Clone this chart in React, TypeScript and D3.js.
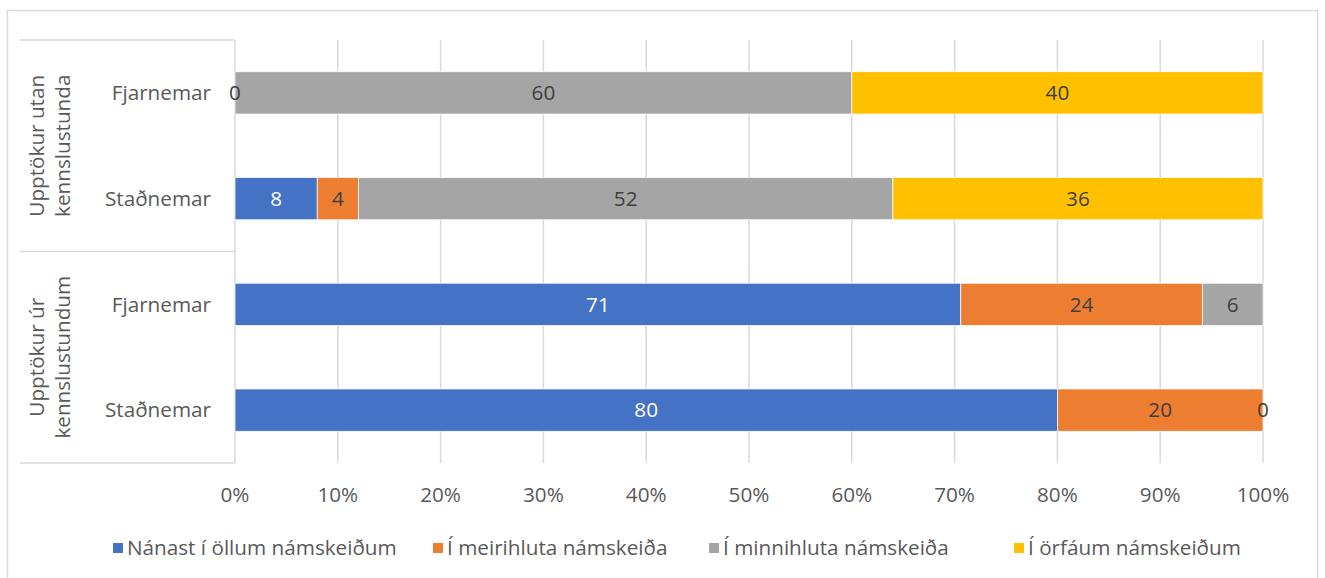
import React from "react";
import * as d3 from "d3";

const categories = ["Fjarnemar|utan", "Staðnemar|utan", "Fjarnemar|ur", "Staðnemar|ur"];
const categoryLabels = ["Fjarnemar", "Staðnemar", "Fjarnemar", "Staðnemar"];
const groups = [
  { lines: ["Upptökur utan", "kennslustunda"], members: ["Fjarnemar|utan", "Staðnemar|utan"] },
  { lines: ["Upptökur úr", "kennslustundum"], members: ["Fjarnemar|ur", "Staðnemar|ur"] },
];
const seriesNames = [
  "Nánast í öllum námskeiðum",
  "Í meirihluta námskeiða",
  "Í minnihluta námskeiða",
  "Í örfáum námskeiðum",
];
const colors = ["#4472C4", "#ED7D31", "#A5A5A5", "#FFC000"];
const labelColors = ["#FFFFFF", "#404040", "#404040", "#404040"];
// values per series, in category order (null = no value / no label)
const nanast = [0, 8, 70.6, 80];
const meirihluta = [null, 4, 23.5, 20];
const minnihluta = [60, 52, 5.9, 0];
const orfaum = [40, 36, null, null];
const seriesValues = [nanast, meirihluta, minnihluta, orfaum];
const ticks = [0, 0.1, 0.2, 0.3, 0.4, 0.5, 0.6, 0.7, 0.8, 0.9, 1];

const W = 1325;
const H = 578;
const FONT = "'Open Sans', sans-serif";
const FS = 20.7;

export default function App() {
  const x = d3.scaleLinear().domain([0, 1]).range([235, 1263]);
  const y = d3
    .scaleBand<string>()
    .domain(categories)
    .range([40, 463])
    .paddingInner(0.6)
    .paddingOuter(0.3);

  const rows = categories.map((c, i) => {
    const vals = seriesValues.map((s) => s[i]);
    const total = d3.sum(vals.map((v) => v ?? 0));
    let acc = 0;
    return vals.map((v, k) => {
      const start = acc / total;
      acc += v ?? 0;
      const end = acc / total;
      return { cat: c, k, v, start, end };
    });
  });

  const step = y.step();
  const gridColor = "#D9D9D9";

  const legendX = [113, 433, 709, 1014];

  return (
    <svg
      width={W}
      height={H}
      style={{ position: "absolute", left: 0, top: 0, background: "#fff" }}
      fontFamily={FONT}
    >
      <rect x={7.5} y={10.5} width={1310} height={H} fill="#fff" stroke={gridColor} strokeWidth={1.5} />
      {/* gridlines */}
      {ticks.map((t) => (
        <line key={t} x1={x(t)} x2={x(t)} y1={40} y2={463} stroke={gridColor} strokeWidth={1.5} />
      ))}
      {/* category group box lines */}
      {[40, (y(groups[1].members[0]) ?? 0) - (step - y.bandwidth()) / 2, 463].map((yy, i) => (
        <line key={i} x1={20} x2={235} y1={yy} y2={yy} stroke={gridColor} strokeWidth={1.5} />
      ))}
      {/* bars */}
      {rows.map((segs) =>
        segs.map((s) =>
          s.v === null || s.v === 0 ? null : (
            <rect
              key={s.cat + s.k}
              x={x(s.start)}
              y={y(s.cat)}
              width={x(s.end) - x(s.start)}
              height={y.bandwidth()}
              fill={colors[s.k]}
              stroke="#fff"
              strokeWidth={0.75}
            />
          )
        )
      )}
      {/* data labels */}
      {rows.map((segs) =>
        segs.map((s) =>
          s.v === null ? null : (
            <text
              key={"l" + s.cat + s.k}
              x={x((s.start + s.end) / 2)}
              y={(y(s.cat) ?? 0) + y.bandwidth() / 2}
              dy="0.35em"
              textAnchor="middle"
              fontSize={FS}
              fill={s.v === 0 ? "#404040" : labelColors[s.k]}
            >
              {Math.round(s.v)}
            </text>
          )
        )
      )}
      {/* category labels */}
      {categories.map((c, i) => (
        <text
          key={"c" + c}
          x={211}
          y={(y(c) ?? 0) + y.bandwidth() / 2}
          dy="0.35em"
          textAnchor="end"
          fontSize={FS}
          fill="#595959"
        >
          {categoryLabels[i]}
        </text>
      ))}
      {/* group labels */}
      {groups.map((g) => {
        const y0 = (y(g.members[0]) ?? 0) - (step - y.bandwidth()) / 2;
        const y1 = (y(g.members[g.members.length - 1]) ?? 0) + y.bandwidth() + (step - y.bandwidth()) / 2;
        const cy = (y0 + y1) / 2;
        return (
          <g key={g.lines[0]} transform={`translate(50,${cy}) rotate(-90)`}>
            {g.lines.map((l, j) => (
              <text
                key={l}
                x={0}
                y={(j - 0.5) * 26}
                dy="0.35em"
                textAnchor="middle"
                fontSize={FS}
                fill="#595959"
              >
                {l}
              </text>
            ))}
          </g>
        );
      })}
      {/* x tick labels */}
      {ticks.map((t) => (
        <text key={"t" + t} x={x(t)} y={495} dy="0.35em" textAnchor="middle" fontSize={FS} fill="#595959">
          {d3.format(".0%")(t)}
        </text>
      ))}
      {/* legend */}
      {seriesNames.map((n, i) => (
        <g key={n} transform={`translate(${legendX[i]},548)`}>
          <rect x={0} y={-5} width={10} height={10} fill={colors[i]} />
          <text x={14} y={0} dy="0.35em" fontSize={FS} fill="#595959">
            {n}
          </text>
        </g>
      ))}
    </svg>
  );
}
